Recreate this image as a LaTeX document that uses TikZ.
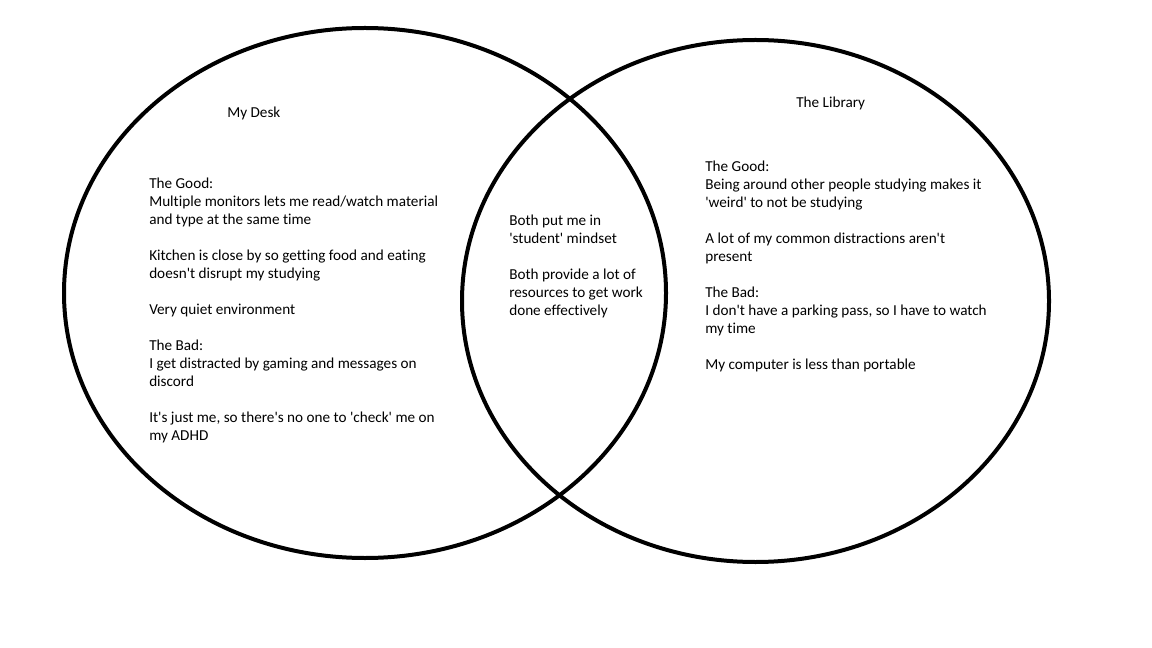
\documentclass[tikz,border=0pt]{standalone}
\usepackage{fontspec}
\setmainfont{Carlito}[Ligatures={NoCommon,NoRequired,NoContextual}]
\newcommand{\sq}{\textquotesingle}
\begin{document}
\begin{tikzpicture}[x=0.75pt,y=-0.75pt,
  ring/.style={draw=black,line width=3pt},
  txt/.style={anchor=north west,inner sep=0pt,align=left,font=\fontsize{11.4pt}{13.5pt}\selectfont}]
\useasboundingbox[fill=white] (0,0) rectangle (1152,648);
\draw[ring] (365,293) ellipse [x radius=301, y radius=265];
\draw[ring] (755.5,301) ellipse [x radius=293.5, y radius=261];
\node[txt] (desk) at (227,107) {My Desk};
\node[txt] (lib) at (796,97) {The Library};
\node[txt] (left) at (149,178) {The Good:\\
Multiple monitors lets me read/watch material\\
and type at the same time\\[13.5pt]
Kitchen is close by so getting food and eating\\
doesn\sq t disrupt my studying\\[13.5pt]
Very quiet environment\\[13.5pt]
The Bad:\\
I get distracted by gaming and messages on\\
discord\\[13.5pt]
It\sq s just me, so there\sq s no one to \sq check\sq{} me on\\
my ADHD};
\node[txt] (mid) at (509,215) {Both put me in\\
\sq student\sq{} mindset\\[13.5pt]
Both provide a lot of\\
resources to get work\\
done effectively};
\node[txt] (right) at (705,161) {The Good:\\
Being around other people studying makes it\\
\sq weird\sq{} to not be studying\\[13.5pt]
A lot of my common distractions aren\sq t\\
present\\[13.5pt]
The Bad:\\
I don\sq t have a parking pass, so I have to watch\\
my time\\[13.5pt]
My computer is less than portable};
\end{tikzpicture}
\end{document}
